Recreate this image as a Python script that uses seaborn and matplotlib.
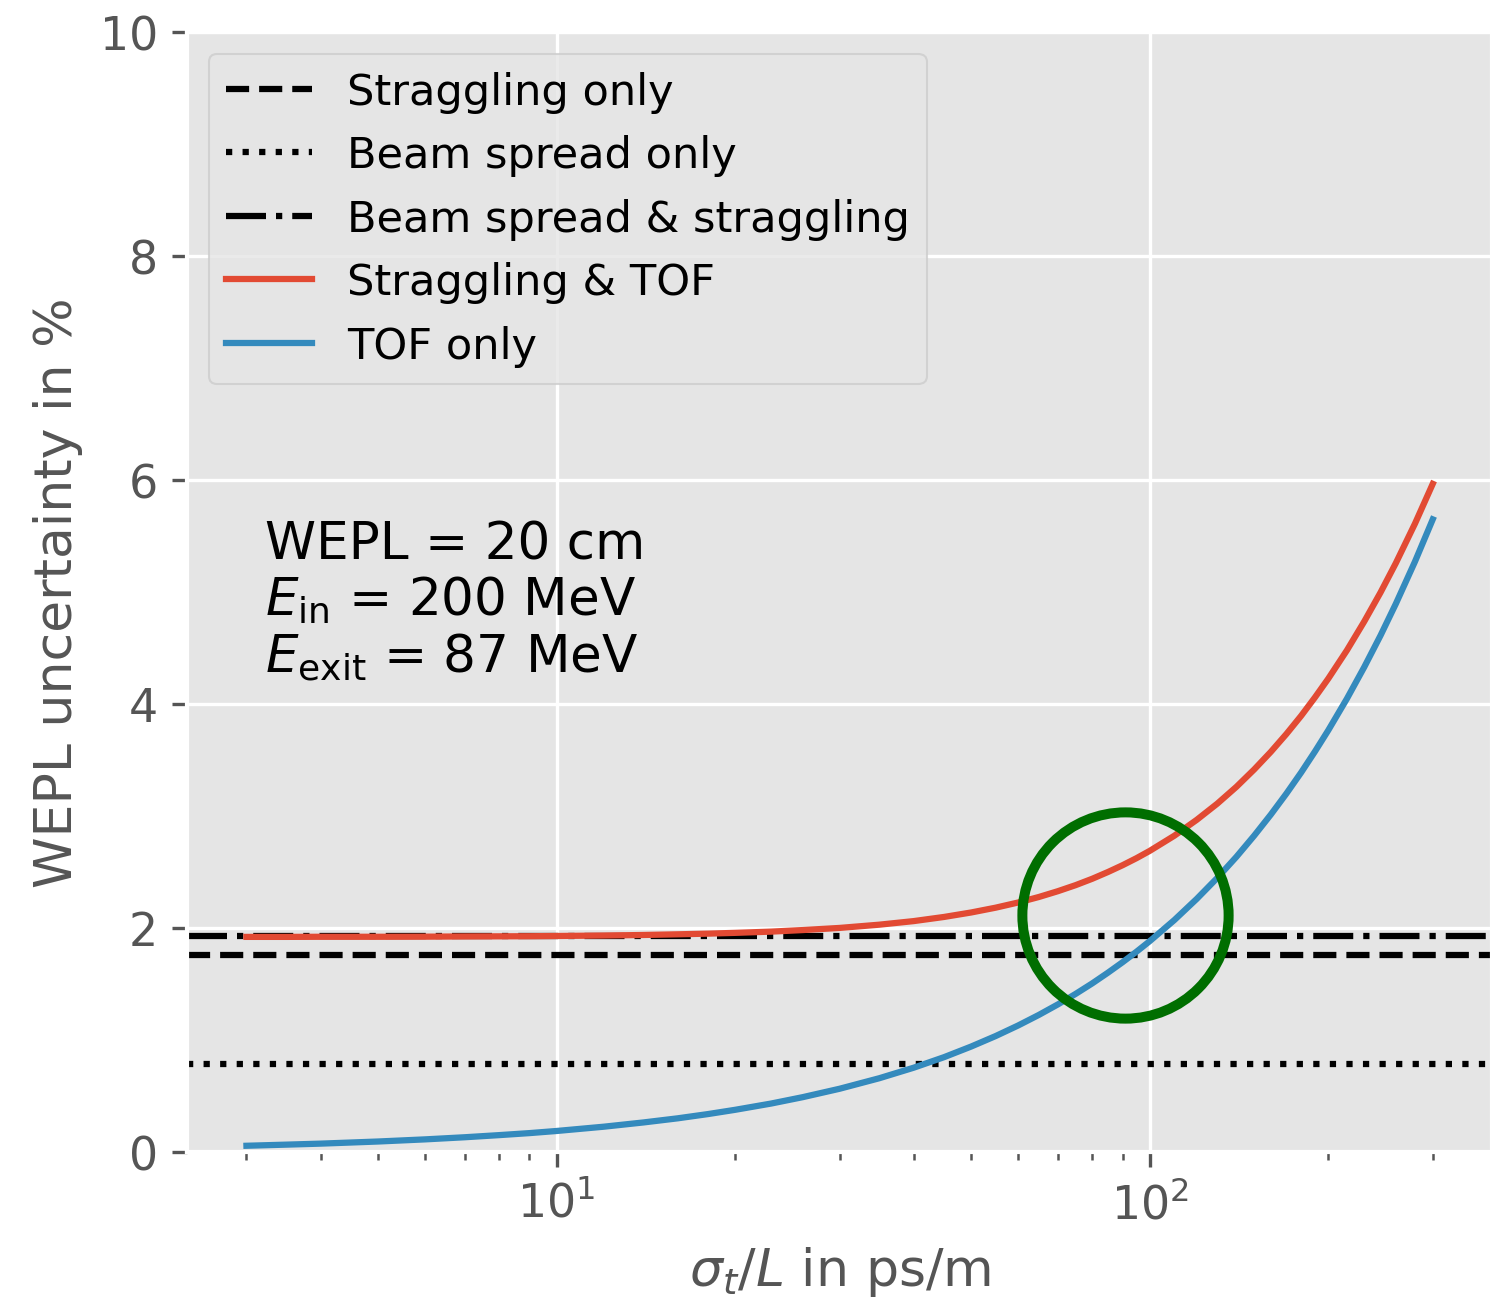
import matplotlib
matplotlib.use("Agg")
import matplotlib.pyplot as plt
import pandas as pd
import seaborn as sns

# ── Data ──────────────────────────────────────────────────────
sigma_per_L = [3, 3.5, 4, 4.5, 5, 6, 7, 8, 9, 10, 12, 14, 16, 18, 20, 23, 26,
               30, 35, 40, 45, 50, 55, 60, 65, 70, 75, 80, 85, 90, 95, 100,
               110, 120, 130, 140, 150, 160, 170, 180, 190, 200, 215, 230,
               245, 260, 280, 300]
tof_only = [0.056, 0.066, 0.075, 0.085, 0.094, 0.113, 0.132, 0.151, 0.169,
            0.188, 0.226, 0.264, 0.301, 0.339, 0.377, 0.433, 0.490, 0.565,
            0.659, 0.753, 0.847, 0.942, 1.036, 1.130, 1.224, 1.318, 1.412,
            1.506, 1.601, 1.695, 1.789, 1.883, 2.071, 2.260, 2.448, 2.636,
            2.825, 3.013, 3.201, 3.389, 3.578, 3.766, 4.048, 4.331, 4.613,
            4.896, 5.272, 5.649]
straggling_tof = [1.921, 1.921, 1.922, 1.922, 1.922, 1.923, 1.925, 1.926,
                  1.927, 1.929, 1.933, 1.938, 1.944, 1.950, 1.957, 1.968,
                  1.982, 2.001, 2.030, 2.062, 2.099, 2.139, 2.182, 2.228,
                  2.277, 2.329, 2.383, 2.440, 2.500, 2.561, 2.624, 2.689,
                  2.824, 2.966, 3.111, 3.261, 3.416, 3.573, 3.733, 3.895,
                  4.061, 4.227, 4.480, 4.738, 4.997, 5.259, 5.611, 5.966]

straggling_only = 1.76
beam_spread_only = 0.786
beam_and_straggling = 1.925

circle_x, circle_y = 91, 2.12

# ── Style ─────────────────────────────────────────────────────
plt.style.use("ggplot")
RED, BLUE = "#E24A33", "#348ABD"

df = pd.DataFrame({
    "x": sigma_per_L * 2,
    "y": straggling_tof + tof_only,
    "curve": ["Straggling & TOF"] * len(sigma_per_L) + ["TOF only"] * len(sigma_per_L),
})

fig = plt.figure(figsize=(4.99, 4.343), dpi=300)
ax = fig.add_axes([0.125, 0.1151, 0.8717, 0.8596])

ax.axhline(straggling_only, color="black", ls="--", lw=1.5, label="Straggling only")
ax.axhline(beam_spread_only, color="black", ls=":", lw=1.5, label="Beam spread only")
ax.axhline(beam_and_straggling, color="black", ls="-.", lw=1.5,
           label="Beam spread & straggling")

sns.lineplot(data=df, x="x", y="y", hue="curve", palette=[RED, BLUE],
             lw=1.5, ax=ax)

ax.plot([circle_x], [circle_y], "o", mfc="none", mec="#006e00", ms=49.5, mew=2.4)

ax.set_xscale("log")
ax.set_ylim(0, 10)
ax.set_yticks([0, 2, 4, 6, 8, 10])
ax.tick_params(labelsize=11)
ax.set_xlabel(r"$\sigma_t/L$ in ps/m", fontsize=12.5)
ax.set_ylabel("WEPL uncertainty in %", fontsize=12.5)

ax.text(0.06, 0.565,
        "WEPL = 20 cm\n$E_\\mathrm{in}$ = 200 MeV\n$E_\\mathrm{exit}$ = 87 MeV",
        transform=ax.transAxes, fontsize=12.4, va="top", ha="left",
        linespacing=1.12)

handles, labels = ax.get_legend_handles_labels()
ax.legend(handles, labels, loc="upper left", fontsize=10.35, labelspacing=0.5,
          handlelength=2.0)

fig.savefig("out.png", dpi=300)
